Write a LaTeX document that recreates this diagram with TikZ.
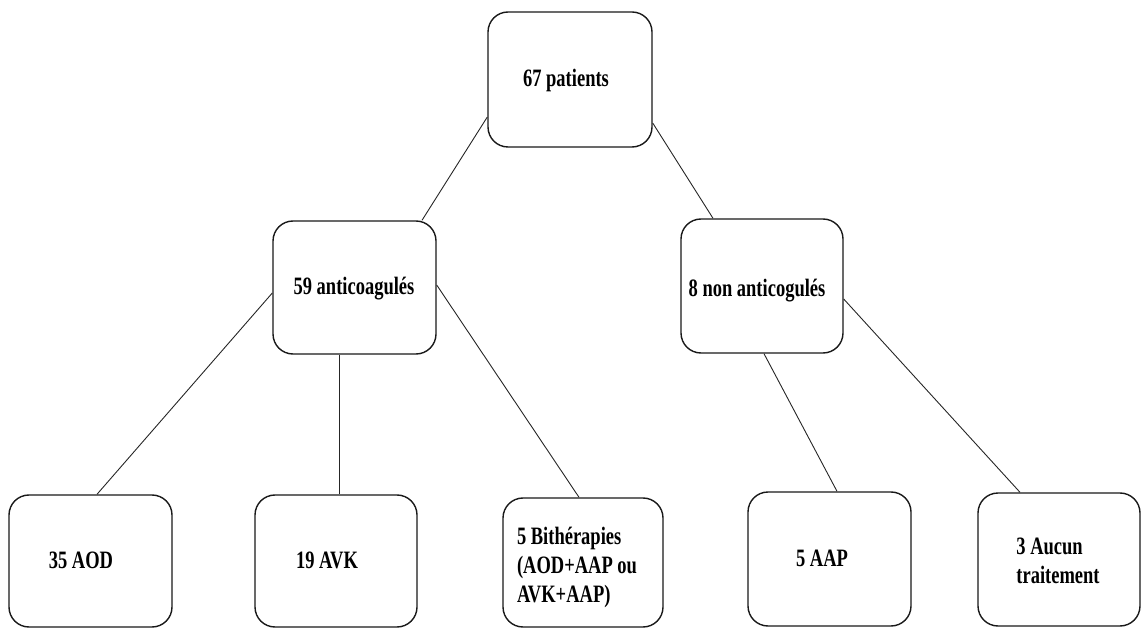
\documentclass[tikz,border=0pt]{standalone}
\usepackage{fontspec}
\newfontfamily\dfont[FakeStretch=0.74]{Liberation Serif}
\begin{document}
\begin{tikzpicture}[x=1pt,y=-1pt,
  box/.style={draw=black!90, line width=1.4pt, rounded corners=20pt, inner sep=0pt},
  txt/.style={font=\dfont\bfseries\fontsize{25}{29}\selectfont, inner sep=0pt, align=left, text=black},
  link/.style={draw=black!85, line width=0.9pt}]
\useasboundingbox (0,0) rectangle (1141,628);
% boxes
\node[box, minimum width=164pt, minimum height=135pt] (top) at (570,79.5) {};
\node[box, minimum width=163pt, minimum height=133pt] (b59) at (354.5,287.5) {};
\node[box, minimum width=162pt, minimum height=134pt] (b8) at (762,286) {};
\node[box, minimum width=163pt, minimum height=132pt] (b35) at (90.5,561) {};
\node[box, minimum width=162pt, minimum height=132pt] (b19) at (336,561) {};
\node[box, minimum width=160pt, minimum height=129pt] (bith) at (583,562.5) {};
\node[box, minimum width=163pt, minimum height=134pt] (aap) at (829.5,559) {};
\node[box, minimum width=162pt, minimum height=133pt] (auc) at (1059,559.5) {};
% texts
\node[txt] (t67) at (566,80) {67 patients};
\node[txt] (t59) at (354,289) {59 anticoagulés};
\node[txt] (t8) at (757,291) {8 non anticogulés};
\node[txt] (t35) at (81,560) {35 AOD};
\node[txt] (t19) at (327,560) {19 AVK};
\node[txt] (tbith) at (577,567) {5 Bithérapies\\(AOD+AAP ou\\AVK+AAP)};
\node[txt] (taap) at (822,558) {5 AAP};
\node[txt] (tauc) at (1058,561) {3 Aucun\\traitement};
% connectors
\draw[link] ([yshift=-37.5pt]top.west) -- ([xshift=67.5pt]b59.north);
\draw[link] ([yshift=-43.5pt]top.east) -- ([xshift=-49pt]b8.north);
\draw[link] ([yshift=-5.5pt]b59.west) -- ([xshift=6.5pt]b35.north);
\draw[link] ([xshift=-15.5pt]b59.south) -- ([xshift=3pt]b19.north);
\draw[link] ([yshift=2.5pt]b59.east) -- ([xshift=-4pt]bith.north);
\draw[link] ([xshift=2pt]b8.south) -- ([xshift=7.5pt]aap.north);
\draw[link] ([yshift=-13pt]b8.east) -- ([xshift=-39pt]auc.north);
\end{tikzpicture}
\end{document}
